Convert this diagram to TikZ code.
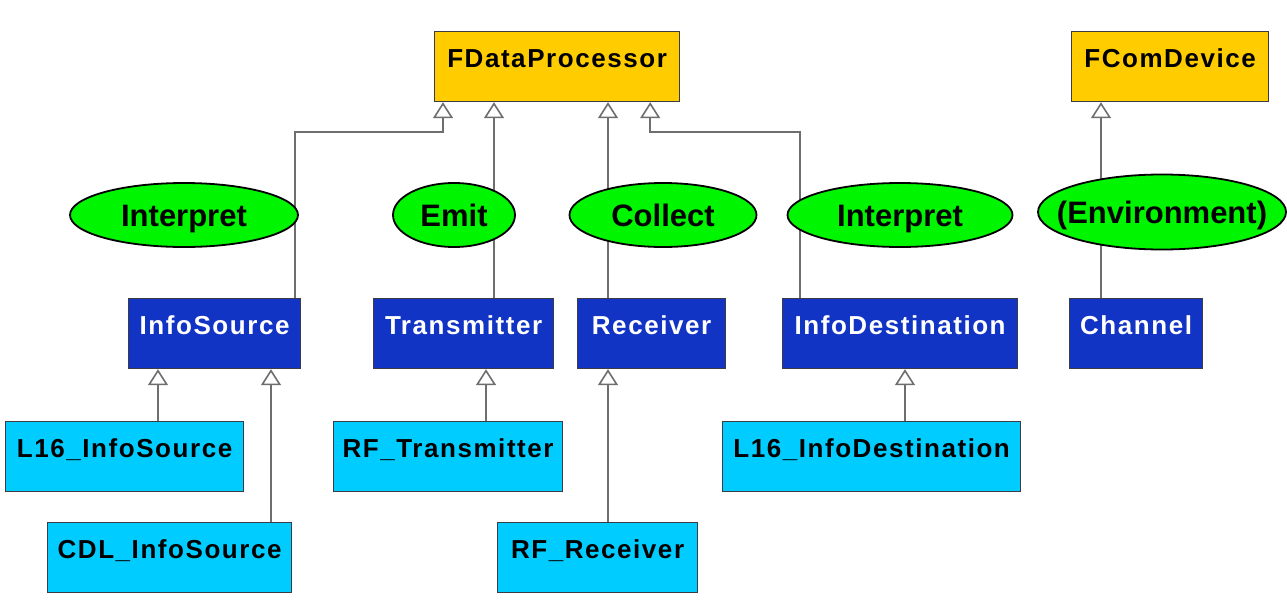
\documentclass[tikz,border=0pt]{standalone}
\usepackage{fontspec}
\setmainfont{Liberation Sans}
\newfontfamily\boxfont[LetterSpace=6]{Liberation Sans}
\usepackage{xcolor}
\usetikzlibrary{shapes.geometric,arrows.meta,positioning}
\definecolor{goldfill}{RGB}{255,204,0}
\definecolor{bluefill}{RGB}{18,52,196}
\definecolor{cyanfill}{RGB}{0,204,255}
\definecolor{rolegreen}{RGB}{0,245,0}
\definecolor{linegray}{RGB}{110,110,110}
\definecolor{edgegray}{RGB}{60,60,70}

\begin{document}
\begin{tikzpicture}[
    x=1pt, y=-1pt,
    block/.style = {rectangle, draw=edgegray, line width=1.2pt, anchor=north west, inner xsep=0pt, inner ysep=0pt, text height=36pt, text depth=34pt, font=\boxfont\bfseries\fontsize{26}{30}\selectfont},
    base_block/.style = {block, fill=goldfill, text=black},
    mid_block/.style = {block, fill=bluefill, text=white},
    leaf_block/.style = {block, fill=cyanfill, text=black},
    role/.style = {ellipse, draw=black, line width=1.8pt, fill=rolegreen, inner xsep=-40pt, inner ysep=-10pt, text height=22pt, text depth=0pt, minimum height=64pt, font=\bfseries\fontsize{31}{36}\selectfont},
    inherit/.style = {draw=linegray, line width=1.6pt, -{Triangle[width=20pt, length=16pt, fill=white]}}
]

\fill [white] (0,0) rectangle (1287,613);
\useasboundingbox (0,0) rectangle (1287,613);

% Base classes
\node [base_block, minimum width=245pt] (fdp) at (434,31) {FDataProcessor};
\node [base_block, minimum width=197pt] (fcd) at (1071,31) {FComDevice};

% Row 2
\node [mid_block, minimum width=172pt] (isrc) at (128,298) {InfoSource};
\node [mid_block, minimum width=180pt] (tx) at (373,298) {Transmitter};
\node [mid_block, minimum width=148pt] (rx) at (577,298) {Receiver};
\node [mid_block, minimum width=235pt] (idst) at (782,298) {InfoDestination};
\node [mid_block, minimum width=133pt] (chan) at (1069,298) {Channel};

% Row 3
\node [leaf_block, minimum width=238pt] (l16src) at (5,421) {L16\_InfoSource};
\node [leaf_block, minimum width=229pt] (rftx) at (333,421) {RF\_Transmitter};
\node [leaf_block, minimum width=298pt] (l16dst) at (722,421) {L16\_InfoDestination};

% Row 4
\node [leaf_block, minimum width=244pt] (cdlsrc) at (47,522) {CDL\_InfoSource};
\node [leaf_block, minimum width=200pt] (rfrx) at (497,522) {RF\_Receiver};

% Arrows
\draw [inherit] ([xshift=-6pt]isrc.north east) |- ([xshift=9pt, yshift=-30pt]fdp.south west) -- ([xshift=9pt]fdp.south west);
\draw [inherit] ([xshift=121pt]tx.north west) -- ([xshift=121pt]tx.north west |- fdp.south);
\draw [inherit] ([xshift=31pt]rx.north west) -- ([xshift=31pt]rx.north west |- fdp.south);
\draw [inherit] ([xshift=18pt]idst.north west) |- ([xshift=-30pt, yshift=-30pt]fdp.south east) -- ([xshift=-30pt]fdp.south east);
\draw [inherit] ([xshift=32pt]chan.north west) -- ([xshift=32pt]chan.north west |- fcd.south);
\draw [inherit] ([xshift=30pt]isrc.south west |- l16src.north) -- ([xshift=30pt]isrc.south west);
\draw [inherit] ([xshift=143pt]isrc.south west |- cdlsrc.north) -- ([xshift=143pt]isrc.south west);
\draw [inherit] ([xshift=113pt]tx.south west |- rftx.north) -- ([xshift=113pt]tx.south west);
\draw [inherit] ([xshift=31pt]rx.south west |- rfrx.north) -- ([xshift=31pt]rx.south west);
\draw [inherit] ([xshift=123pt]idst.south west |- l16dst.north) -- ([xshift=123pt]idst.south west);

% Roles
\node [role, minimum width=228pt] (r_isrc) at (184,215) {Interpret};
\node [role, minimum width=122pt] (r_tx) at (454,215) {Emit};
\node [role, minimum width=187pt] (r_rx) at (663,215) {Collect};
\node [role, minimum width=225pt] (r_idst) at (900,215) {Interpret};
\node [role, minimum width=248pt, minimum height=75pt] (r_chan) at (1162,212) {(Environment)};

\end{tikzpicture}
\end{document}
